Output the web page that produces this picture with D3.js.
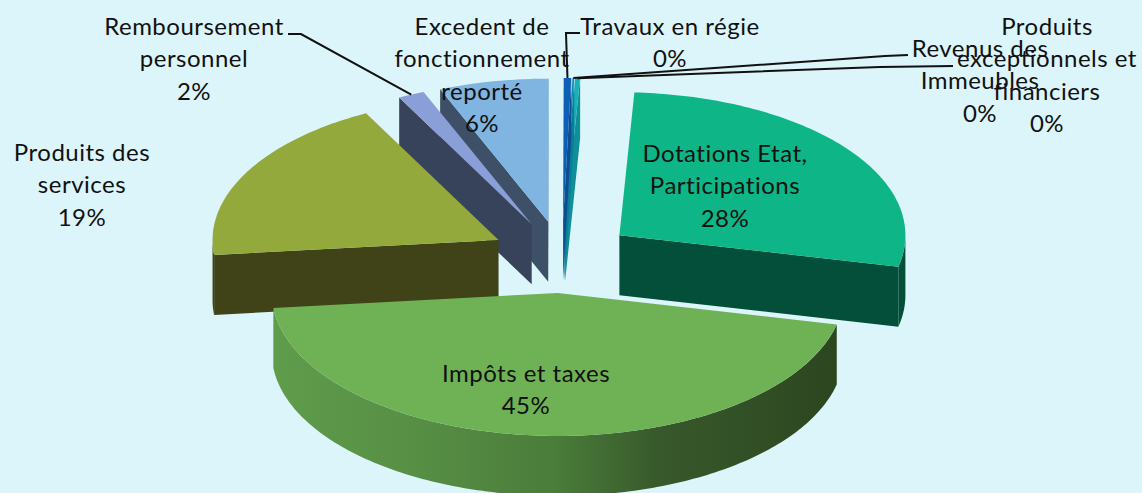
<!DOCTYPE html>
<html>
<head>
<meta charset="utf-8">
<script src="https://cdnjs.cloudflare.com/ajax/libs/d3/7.8.5/d3.min.js"></script>
<style>
  html, body { margin: 0; padding: 0; background: #dcf5fa; }
  svg { display: block; }
  text { font-family: Lato, "Open Sans", sans-serif; font-size: 24px; letter-spacing: 0.5px; fill: #111; text-anchor: middle; }
</style>
</head>
<body>
<div id="chart"></div>
<script>
// Chart values
var categories = ["Dotations Etat, Participations", "Impôts et taxes", "Produits des services",
  "Remboursement personnel", "Excedent de fonctionnement reporté", "Travaux en régie",
  "Revenus des Immeubles", "Produits exceptionnels et financiers"];
var values = [27.7, 44.8, 19.0, 1.5, 6.2, 0.42, 0.1, 0.28];
var percentLabels = ["28%", "45%", "19%", "2%", "6%", "0%", "0%", "0%"];

var labelLines = [
  ["Dotations Etat,", "Participations"],
  ["Impôts et taxes"],
  ["Produits des", "services"],
  ["Remboursement", "personnel"],
  ["Excedent de", "fonctionnement", "reporté"],
  ["Travaux en régie"],
  ["Revenus des", "Immeubles"],
  ["Produits", "exceptionnels et", "financiers"]
];

// Layout
var svgWidth = 1142;
var svgHeight = 493;
var center = { x: 562, y: 257 };
var radiusX = 286;
var radiusY = 143;
var depth = 60;
var explode = 72;
var startDeg = 3;
var lineStep = 32.6;

var topColors = ["#0db587", "#6fb255", "#94a93b", "#8a9fd8", "#7fb5e0", "#0b5fb4", "#0f8db4", "#1ab0b4"];
var wallColors = ["#034f3a", "#4f8440", "#3f4317", "#36435a", "#3d5068", "#0a4f90", "#0d7c98", "#0f8f98"];

// where each label sits (centre x, centre y of its first line)
var labelPos = [[725, 153], [526, 373], [82, 152], [194, 26], [482, 26], [670, 26], [980, 48], [1047, 26]];

var leaders = [
  { slice: 3, points: [[288, 34], [301, 34]] },
  { slice: 5, points: [[580, 33], [566, 33]] },
  { slice: 6, points: [[908, 55], [885, 56]] },
  { slice: 7, points: [[953, 66], [880, 67]] }
];

var rad = Math.PI / 180;

var svg = d3.select("#chart")
  .append("svg")
  .attr("width", svgWidth)
  .attr("height", svgHeight);

svg.append("rect")
  .attr("width", svgWidth)
  .attr("height", svgHeight)
  .attr("fill", "#dcf5fa");

var pie = d3.pie()
  .sort(null)
  .startAngle(startDeg * rad)
  .endAngle((startDeg + 360) * rad);

var slices = pie(values).map(function(d, i) {
  var mid = (d.startAngle + d.endAngle) / 2;
  return {
    index: i,
    a0: d.startAngle,
    a1: d.endAngle,
    mid: mid,
    tip: [center.x + explode * Math.sin(mid), center.y - explode * radiusY / radiusX * Math.cos(mid)]
  };
});

function rim(s, a) {
  return [s.tip[0] + radiusX * Math.sin(a), s.tip[1] - radiusY * Math.cos(a)];
}

function arcPoints(s, a0, a1) {
  var n = Math.max(2, Math.ceil((a1 - a0) / (1 * rad)));
  return d3.range(n + 1).map(function(k) {
    return rim(s, a0 + (a1 - a0) * k / n);
  });
}

function down(p) {
  return [p[0], p[1] + depth];
}

var line = d3.line();
function closed(points) {
  return line(points) + "Z";
}

// horizontal shade on the rounded wall of the big slice
var defs = svg.append("defs");
var wallGrad = defs.append("linearGradient")
  .attr("id", "wallShade")
  .attr("gradientUnits", "userSpaceOnUse")
  .attr("x1", 275).attr("x2", 838).attr("y1", 0).attr("y2", 0);
wallGrad.selectAll("stop")
  .data([[0, "#5f9c4b"], [0.25, "#578f45"], [0.5, "#4a7c3a"], [0.68, "#38592b"], [1, "#2c4620"]])
  .enter()
  .append("stop")
  .attr("offset", function(d) { return d[0]; })
  .attr("stop-color", function(d) { return d[1]; });

// back slices first, the big front one last
var drawOrder = [7, 6, 5, 4, 3, 2, 0, 1];

drawOrder.forEach(function(i) {
  var s = slices[i];
  var g = svg.append("g");
  var pStart = rim(s, s.a0);
  var pEnd = rim(s, s.a1);

  // cut faces, only the ones turned toward the viewer
  if (pStart[0] < s.tip[0]) {
    g.append("path")
      .attr("d", closed([s.tip, pStart, down(pStart), down(s.tip)]))
      .attr("fill", wallColors[i]);
  }
  if (s.tip[0] < pEnd[0]) {
    g.append("path")
      .attr("d", closed([pEnd, s.tip, down(s.tip), down(pEnd)]))
      .attr("fill", wallColors[i]);
  }

  // outer wall, lower half of the ellipse
  var w0 = Math.max(s.a0, 90 * rad);
  var w1 = Math.min(s.a1, 270 * rad);
  if (w1 > w0) {
    var pts = arcPoints(s, w0, w1);
    g.append("path")
      .attr("d", closed(pts.concat(pts.map(down).reverse())))
      .attr("fill", i === 1 ? "url(#wallShade)" : wallColors[i]);
  }

  g.append("path")
    .attr("d", closed([s.tip].concat(arcPoints(s, s.a0, s.a1))))
    .attr("fill", topColors[i]);
});

// leader lines
leaders.forEach(function(l) {
  var s = slices[l.slice];
  svg.append("path")
    .attr("d", line(l.points.concat([rim(s, s.mid)])))
    .attr("fill", "none")
    .attr("stroke", "#111")
    .attr("stroke-width", 2);
});

// data labels
categories.forEach(function(name, i) {
  var rows = labelLines[i].concat([percentLabels[i]]);
  var t = svg.append("text")
    .attr("aria-label", name);
  rows.forEach(function(row, k) {
    t.append("tspan")
      .attr("x", labelPos[i][0])
      .attr("y", labelPos[i][1] + k * lineStep)
      .attr("dy", "0.36em")
      .text(row);
  });
});
</script>
</body>
</html>
